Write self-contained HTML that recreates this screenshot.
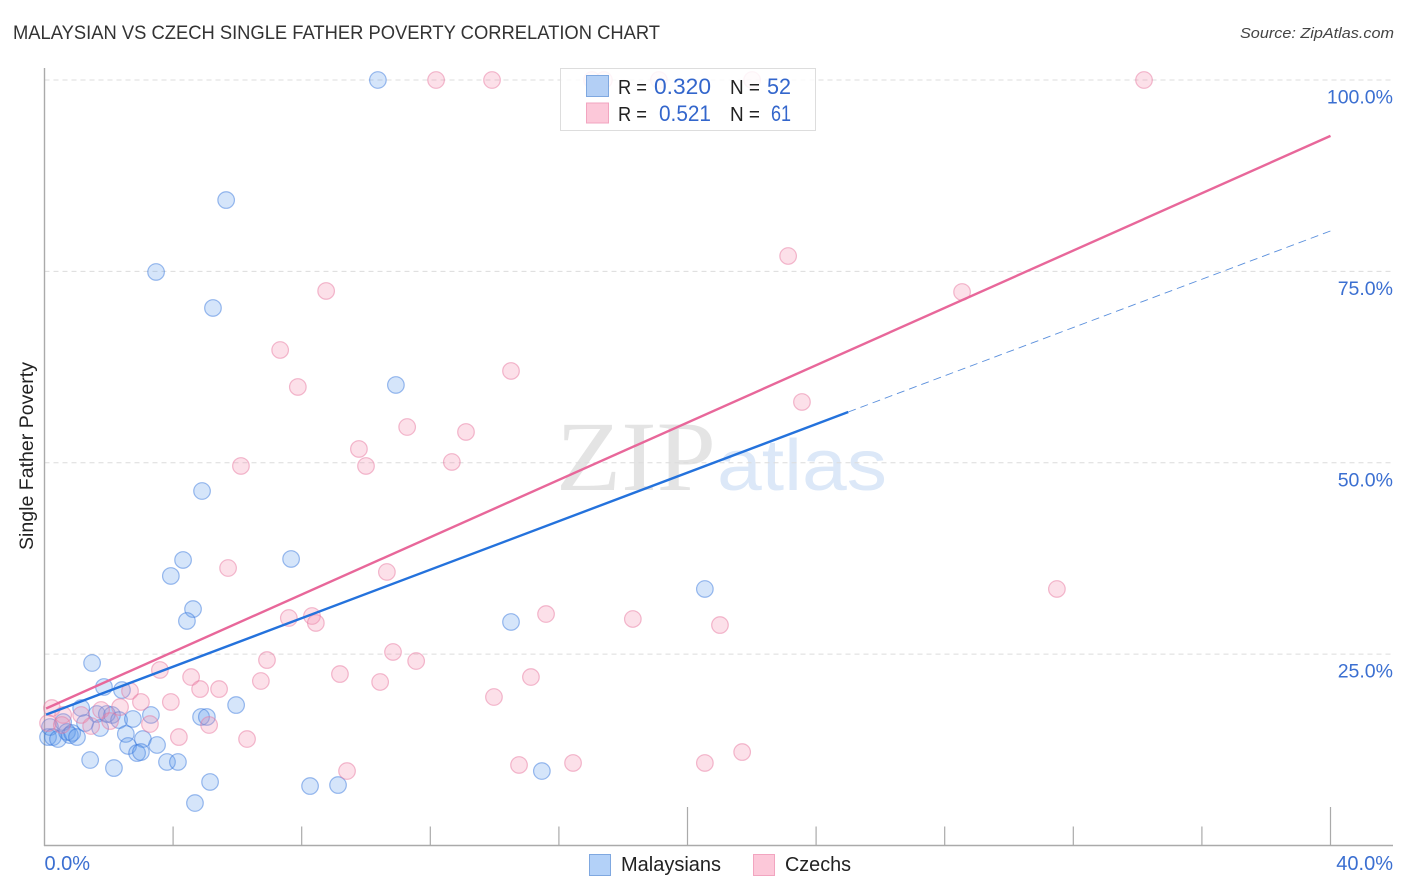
<!DOCTYPE html>
<html lang="en">
<head>
<meta charset="utf-8">
<title>Malaysian vs Czech Single Father Poverty Correlation Chart</title>
<style>
html,body{margin:0;padding:0;background:#fff;width:1406px;height:892px;overflow:hidden}
svg{display:block;font-family:"Liberation Sans",sans-serif}
</style>
</head>
<body>
<svg id="chart" xmlns="http://www.w3.org/2000/svg" width="1406" height="892" viewBox="0 0 1406 892">
  <rect x="0" y="0" width="1406" height="892" fill="#ffffff"/>
  <text x="13" y="39" font-size="19.5" fill="#333333" textLength="647" lengthAdjust="spacingAndGlyphs">MALAYSIAN VS CZECH SINGLE FATHER POVERTY CORRELATION CHART</text>
  <text x="1394" y="38" font-size="15" font-style="italic" fill="#444444" text-anchor="end" textLength="154" lengthAdjust="spacingAndGlyphs">Source: ZipAtlas.com</text>
  <text transform="translate(33,456) rotate(-90)" font-size="19" fill="#222222" text-anchor="middle" textLength="188" lengthAdjust="spacingAndGlyphs">Single Father Poverty</text>
  <g id="watermark">
    <text x="556" y="490" font-family="'Liberation Serif',serif" font-size="100" fill="#e4e4e4" textLength="160" lengthAdjust="spacingAndGlyphs">ZIP</text>
    <text x="717" y="490" font-size="72" fill="#dce8f8" textLength="170" lengthAdjust="spacingAndGlyphs">atlas</text>
  </g>
  <g id="grid"></g>
  <g id="axes"></g>
  <g id="points-blue"></g>
  <g id="points-pink"></g>
  <g id="lines"></g>
  <g id="labels"></g>
  <g>
    <rect x="560.5" y="68.5" width="255" height="62" fill="#ffffff" fill-opacity="0.85" stroke="#dddddd"/>
    <rect x="586.5" y="75.5" width="22" height="21" fill="#b3cff5" stroke="#7fa8e0"/>
    <rect x="586.5" y="103" width="22" height="20" fill="#fcc8d9" stroke="#f2a5c0"/>
    <text x="618" y="94" font-size="20" fill="#222222" textLength="29" lengthAdjust="spacingAndGlyphs">R =</text>
    <text x="654" y="94" font-size="22" fill="#3366cc" textLength="57" lengthAdjust="spacingAndGlyphs">0.320</text>
    <text x="730" y="94" font-size="20" fill="#222222" textLength="30" lengthAdjust="spacingAndGlyphs">N =</text>
    <text x="767" y="94" font-size="22" fill="#3366cc" textLength="24" lengthAdjust="spacingAndGlyphs">52</text>
    <text x="618" y="121" font-size="20" fill="#222222" textLength="29" lengthAdjust="spacingAndGlyphs">R =</text>
    <text x="659" y="121" font-size="22" fill="#3366cc" textLength="52" lengthAdjust="spacingAndGlyphs">0.521</text>
    <text x="730" y="121" font-size="20" fill="#222222" textLength="30" lengthAdjust="spacingAndGlyphs">N =</text>
    <text x="771" y="121" font-size="22" fill="#3366cc" textLength="20" lengthAdjust="spacingAndGlyphs">61</text>
  </g>
  <g>
    <rect x="589.5" y="854.5" width="21" height="21" fill="#b3d1f8" stroke="#7fa8e0"/>
    <text x="621" y="871" font-size="20" fill="#222222" textLength="100" lengthAdjust="spacingAndGlyphs">Malaysians</text>
    <rect x="753.5" y="854.5" width="21" height="21" fill="#fcc8d9" stroke="#f2a5c0"/>
    <text x="785" y="871" font-size="20" fill="#222222" textLength="66" lengthAdjust="spacingAndGlyphs">Czechs</text>
  </g>
</svg>
<script>
const blueX = [10.37,5.65,3.47,5.24,10.93,4.90,4.31,7.67,3.93,20.54,4.62,4.43,14.51,1.48,1.85,2.41,5.96,1.14,1.63,1.94,2.10,2.32,2.75,3.31,4.87,5.05,1.73,2.53,2.60,3.06,3.50,2.88,3.00,1.42,2.16,3.81,4.15,5.15,4.68,15.47,8.26,9.13,0.11,0.17,0.26,0.42,0.58,0.70,0.79,0.86,1.01,1.26];
const blueY = [100,84.32,74.92,70.22,60.16,46.31,37.30,37.43,35.21,33.51,30.89,29.33,29.20,23.84,20.71,20.31,18.35,17.96,17.18,17.18,17.05,16.39,16.53,17.05,16.79,16.79,15.35,14.57,13.00,13.91,13.13,12.08,12.21,11.17,10.12,10.91,10.91,8.30,5.55,9.73,7.77,7.90,14.17,15.48,14.17,13.91,16.13,14.83,14.43,14.70,14.17,16.00];
const pinkX = [12.18,13.92,17.03,17.40,19.11,22.01,34.20,23.13,28.54,8.76,7.33,7.88,14.51,23.56,11.28,13.11,9.78,10.00,12.67,6.11,5.71,10.65,31.49,15.60,18.30,7.60,8.32,8.44,21.01,10.84,11.56,6.92,3.59,9.19,4.56,6.73,10.44,15.13,5.43,4.84,13.98,2.66,3.00,3.93,2.35,1.76,0.23,0.58,1.14,1.45,2.04,3.28,5.12,4.18,6.30,21.70,9.41,14.76,16.44,20.54,0.11,0.54];
const pinkY = [100,100,100,100,100,100,100,77.01,72.31,72.44,64.73,59.90,61.99,57.94,54.67,54.02,51.80,49.58,50.10,49.58,36.25,35.73,33.51,30.24,29.59,29.72,29.98,29.07,28.80,25.28,24.10,24.23,22.93,22.40,22.01,21.49,21.36,22.01,20.44,20.44,19.40,20.18,18.75,18.75,18.09,17.70,17.96,17.05,17.05,15.61,16.26,15.87,15.74,14.17,13.91,12.21,9.73,10.52,10.78,10.78,16.00,15.74];
const blueTrendX = [0.05, 25];
const blueTrendY = [17.1, 56.63];
const blueDashX = [25, 40];
const blueDashY = [56.63, 80.28];
const pinkTrendX = [0.05, 40];
const pinkTrendY = [17.9, 92.7];
const yTicks = [25, 50, 75, 100];
const yTickLabels = ["25.0%", "50.0%", "75.0%", "100.0%"];
const xTicks = [4, 8, 12, 16, 20, 24, 28, 32, 36, 40];
const xEndTicks = [0, 40];
const xEndLabels = ["0.0%", "40.0%"];

const NS = "http://www.w3.org/2000/svg";
function xs(v) { return 44.5 + v * 32.15; }
function ys(v) { return 845.5 - v * 7.655; }
function mk(tag, parent, props) {
  const el = document.createElementNS(NS, tag);
  for (const k in props) el.setAttribute(k, props[k]);
  document.getElementById(parent).appendChild(el);
  return el;
}

yTicks.forEach(function (t) {
  const g = mk("line", "grid", {x1: 44.5, x2: 1393, y1: ys(t), y2: ys(t), stroke: "#dcdcdc", "stroke-width": 1, "stroke-dasharray": "5 4"});
  
  
});

const yAxis = mk("line", "axes", {x1: 44.5, x2: 44.5, y1: 68, y2: 846, stroke: "#aaaaaa", "stroke-width": 1.4});


const xAxis = mk("line", "axes", {x1: 44, x2: 1393, y1: 845.5, y2: 845.5, stroke: "#aaaaaa", "stroke-width": 1.4});



xTicks.forEach(function (t) {
  const top = t % 20 === 0 ? 807 : 826.5;
  const k = mk("line", "axes", {x1: xs(t), x2: xs(t), y1: top, y2: 845.5, stroke: "#aaaaaa", "stroke-width": 1.2});
  
  
});

blueX.forEach(function (x, i) {
  const c = mk("circle", "points-blue", {cx: xs(x), cy: ys(blueY[i]), r: 8.3, fill: "rgba(94,153,235,0.26)", stroke: "rgba(50,115,220,0.48)", "stroke-width": 1.2});
  
  
});
pinkX.forEach(function (x, i) {
  const c = mk("circle", "points-pink", {cx: xs(x), cy: ys(pinkY[i]), r: 8.3, fill: "rgba(245,140,175,0.27)", stroke: "rgba(232,120,160,0.5)", "stroke-width": 1.2});
  
  
});

const blueDash = mk("line", "lines", {x1: xs(blueDashX[0]), y1: ys(blueDashY[0]), x2: xs(blueDashX[1]), y2: ys(blueDashY[1]), stroke: "#5a8fdc", "stroke-width": 0.9, "stroke-dasharray": "8 5"});


const blueLine = mk("line", "lines", {x1: xs(blueTrendX[0]), y1: ys(blueTrendY[0]), x2: xs(blueTrendX[1]), y2: ys(blueTrendY[1]), stroke: "#2472dc", "stroke-width": 2.4});


const pinkLine = mk("line", "lines", {x1: xs(pinkTrendX[0]), y1: ys(pinkTrendY[0]), x2: xs(pinkTrendX[1]), y2: ys(pinkTrendY[1]), stroke: "#e8679a", "stroke-width": 2.4});



yTicks.forEach(function (t, i) {
  const l = mk("text", "labels", {x: 1393, y: ys(t) + 23.5, "font-size": 19.5, fill: "#3b6fd1", "text-anchor": "end"});
  l.textContent = yTickLabels[i];
  
  
});
xEndTicks.forEach(function (t, i) {
  const l = mk("text", "labels", {x: i === 0 ? xs(t) : 1393, y: 870, "font-size": 20, fill: "#3b6fd1", "text-anchor": i === 0 ? "start" : "end"});
  l.textContent = xEndLabels[i];
  
  
});
</script>
</body>
</html>
